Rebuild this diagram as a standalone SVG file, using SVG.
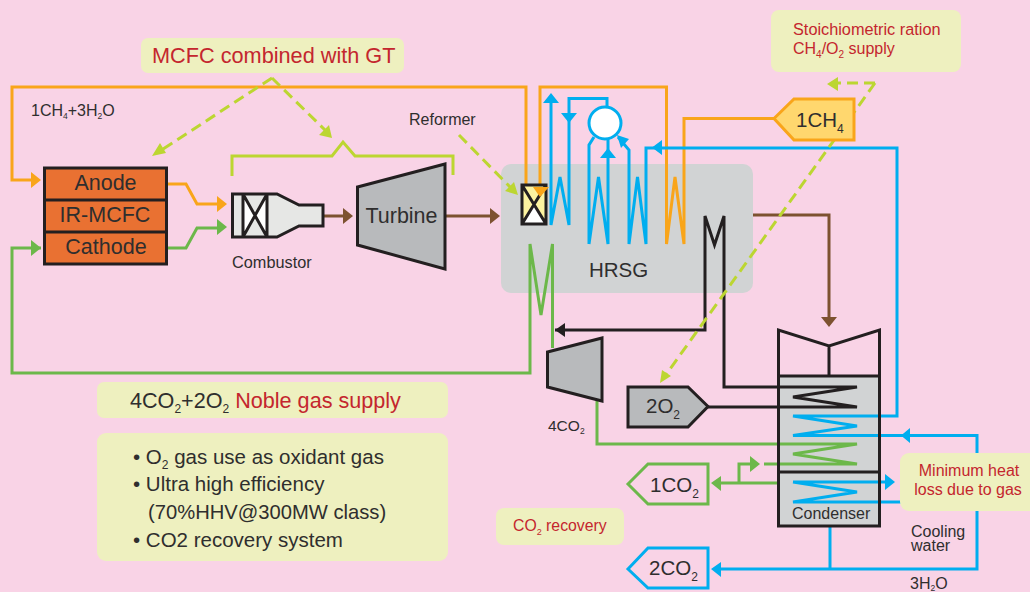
<svg xmlns="http://www.w3.org/2000/svg" width="1030" height="592" viewBox="0 0 1030 592">
<style>
text{font-family:"Liberation Sans",Arial,sans-serif;fill:#2f2e2e}
.r{fill:#c4262e}
.c{fill:none;stroke-width:3;stroke-linejoin:miter}
.o{stroke:#f9a51a}.b{stroke:#00aeef}.g{stroke:#6cb84a}.k{stroke:#231f20}.n{stroke:#7d5230}
.fo{fill:#f9a51a}.fb{fill:#00aeef}.fg{fill:#6cb84a}.fk{fill:#231f20}.fn{fill:#7d5230}.fl{fill:#bcd631}
.d{fill:none;stroke:#bcd631;stroke-width:3;stroke-dasharray:11 6}
.note{fill:#eef0bf}
.s{stroke:#231f20;stroke-width:3;stroke-linejoin:miter}
</style>
<rect width="1030" height="592" fill="#f9d3e6"/>
<rect id="hrsg-bg" x="501" y="164" width="252" height="129" rx="10" fill="#d1d3d4"/>
<g id="condenser">
<rect x="778.500" y="376" width="101" height="150" fill="#d1d3d4"/>
<path class="s" fill="none" d="M778.500 376V330L829 346L879.500 330V376M829 346V376"/>
</g>
<g id="connectors">
<path class="c o" d="M526 185V87H12V180H32"/>
<path class="c o" d="M168 184H186L197 204H218"/>
<path class="c g" d="M168 248H186L197 228H218"/>
<path class="c o" d="M540 190V87H666.500V244L675 177L684 244V118.500H774"/>
<path class="c b" d="M551 100V225L560 177L569 225V98.500H607V108"/>
<path class="c b" d="M589 244V145L594 137M589 244L598.500 177L608 244V138"/>
<path class="c b" d="M618 137L629 150V244L637.500 177L646 244V148H897V416H793L857 426L793 435.500H977V569H718"/>
<path class="c b" d="M830 526V569"/>
<path class="c b" d="M793 482H888M793 482L857 492L793 502H905"/>
<path class="c k" d="M555 330H705V216L714.500 245L724 216V387H857L793 397L857 407H706"/>
<path class="c n" d="M323 216H345M446 216H492M753 215H829V319"/>
<path class="c g" d="M41 248H12V373H530V244L541 315L552.500 244V348"/>
<path class="c g" d="M597 395V444H857L793 454L857 464H764M755 464H739V483M778 483H718"/>
<path class="c" style="stroke:#bcd631" d="M232 176V156H332L343 142L355 156H453V175"/>
<path class="d" d="M272 78L160 151M272 78L326 131M459 135L511 188M875 83H838M875 83L665 376"/>
<path class="fo" d="M41 180L31 172V188Z"/>
<path class="fg" d="M41 248L31 240V256Z"/>
<path class="fo" d="M227 204L217 196V212Z"/>
<path class="fg" d="M227 227L217 219V235Z"/>
<path class="fn" d="M353 216L343 208V224ZM500 216L490 208V224ZM829 327L821 317H837Z"/>
<path class="fk" d="M555 330L565 323V337Z"/>
<path class="fb" d="M551 93L543 103H559ZM569 123L561 113H577ZM608 148L600 158H616ZM617 135L629 139L621 148ZM652 147.500L662 140V155ZM901 435.500L910 428V443ZM895 482L885 474V490ZM711 569L721 562V577Z"/>
<path class="fg" d="M760 464L750 456V472ZM711 483L721 476V491Z"/>
<path class="fl" d="M152 156L160 143L166 153ZM332 138L319 135L329 125ZM518 195L505 191L514 182ZM827 84L838 77V91ZM660 383L662 370L671 376Z"/>
</g>
<g id="cell">
<rect x="44.500" y="168" width="122" height="96" fill="#e97132" class="s"/>
<path class="s" d="M44 200H167M44 232H167"/>
<text x="105.500" y="190" font-size="21.500" text-anchor="middle">Anode</text>
<text x="105" y="222" font-size="21.500" text-anchor="middle">IR-MCFC</text>
<text x="106" y="254" font-size="21.500" text-anchor="middle">Cathode</text>
</g>
<g id="combustor">
<path class="s" fill="#e6e7e5" d="M232.500 194H277L299 205H323V226H299L277 237H232.500Z"/>
<path fill="#fff" d="M243 195L255 215.500L243 236ZM267 195L255 215.500L267 236Z"/>
<path class="s" fill="none" d="M243 194V237M267 194V237M243 194L267 237M267 194L243 237"/>
</g>
<g id="turbine">
<path class="s" fill="#b8babc" d="M357.500 187L445 164V269L357.500 245Z"/>
<text x="401.500" y="223" font-size="21.500" text-anchor="middle">Turbine</text>
</g>
<g id="reformer">
<rect x="522" y="185" width="24" height="39" fill="#fdf3a0"/>
<path fill="#fff" d="M522 224H546L534 204.500Z"/>
<path class="s" fill="none" d="M522 185H546V224H522ZM522 185L546 224M546 185L522 224"/>
<path class="fo" d="M540 197L533 187H549Z"/>
</g>
<g id="drum"><circle cx="605" cy="123" r="16" fill="#fff" stroke="#00aeef" stroke-width="3"/></g>
<g id="compressor"><path class="s" fill="#b8babc" d="M547.500 352L602 338V401L547.500 387Z"/></g>
<g id="box-1ch4"><path d="M774 118.500L794 99H854V140H794Z" fill="#ffd76e" stroke="#f9a51a" stroke-width="3"/>
<text x="796" y="127" font-size="20.500">1CH<tspan font-size="12" dy="6">4</tspan></text></g>
<g id="box-2o2"><path class="s" fill="#b8babc" d="M628 387H688L708 406.500L688 427H628Z"/>
<text x="646" y="413" font-size="20.500">2O<tspan font-size="12" dy="6">2</tspan></text></g>
<g id="box-1co2"><path d="M628 484L648 464H708V504H648Z" fill="#f9d3e6" stroke="#6cb84a" stroke-width="3"/>
<text x="650" y="492" font-size="20.500">1CO<tspan font-size="12" dy="6">2</tspan></text></g>
<g id="box-2co2"><path d="M628 569L648 548H708V588H648Z" fill="#f9d3e6" stroke="#00aeef" stroke-width="3"/>
<text x="649" y="575" font-size="20.500">2CO<tspan font-size="12" dy="6">2</tspan></text></g>
<g id="note-mcfc"><rect x="141" y="38" width="263" height="35" rx="7" class="note"/><text x="152" y="63" font-size="21.700" class="r">MCFC combined with GT</text></g>
<g id="note-stoich"><rect x="771" y="10" width="190" height="62" rx="8" class="note"/>
<text x="793" y="35" font-size="16.300" class="r">Stoichiometric ration</text>
<text x="793" y="54" font-size="16" class="r">CH<tspan font-size="10" dy="4">4</tspan><tspan dy="-4">/O</tspan><tspan font-size="10" dy="4">2</tspan><tspan dy="-4"> supply</tspan></text></g>
<g id="note-noble"><rect x="97" y="382" width="351" height="36" rx="7" class="note"/>
<text x="130" y="408" font-size="21.600">4CO<tspan font-size="12" dy="5">2</tspan><tspan dy="-5">+2O</tspan><tspan font-size="12" dy="5">2</tspan><tspan dy="-5" class="r"> Noble gas supply</tspan></text></g>
<g id="note-list"><rect x="97" y="433" width="351" height="128" rx="9" class="note"/>
<text x="133" y="464" font-size="20.500">• O<tspan font-size="12" dy="5">2</tspan><tspan dy="-5"> gas use as oxidant gas</tspan></text>
<text x="133" y="491" font-size="20.500">• Ultra high efficiency</text>
<text x="148" y="519" font-size="20.200">(70%HHV@300MW class)</text>
<text x="133" y="547" font-size="20.500">• CO2 recovery system</text></g>
<g id="note-recovery"><rect x="496" y="508" width="128" height="37" rx="8" class="note"/>
<text x="513" y="531" font-size="15.800" class="r">CO<tspan font-size="9" dy="4">2</tspan><tspan dy="-4"> recovery</tspan></text></g>
<g id="note-heat"><rect x="900" y="453" width="140" height="58" rx="9" class="note"/>
<text x="969" y="476" font-size="16" class="r" text-anchor="middle">Minimum heat</text>
<text x="968" y="495" font-size="16" class="r" text-anchor="middle">loss due to gas</text></g>
<g id="labels">
<text x="31" y="116" font-size="16">1CH<tspan font-size="8.500" dy="3">4</tspan><tspan dy="-3">+3H</tspan><tspan font-size="8.500" dy="3">2</tspan><tspan dy="-3">O</tspan></text>
<text x="409" y="125" font-size="16">Reformer</text>
<text x="232" y="268" font-size="16.300">Combustor</text>
<text x="589" y="277" font-size="20.500">HRSG</text>
<text x="548" y="431" font-size="15.500">4CO<tspan font-size="8.500" dy="3">2</tspan></text>
<text x="792" y="519" font-size="16">Condenser</text>
<text font-size="16"><tspan x="911" y="537">Cooling</tspan><tspan x="911" y="551">water</tspan></text>
<text x="910" y="589" font-size="16">3H<tspan font-size="8.500" dy="2">2</tspan><tspan dy="-2">O</tspan></text>
</g>
<g id="condenser-shell"><rect x="778.500" y="376" width="101" height="150" fill="none" class="s"/><path class="s" d="M778 472H880"/></g>
</svg>
